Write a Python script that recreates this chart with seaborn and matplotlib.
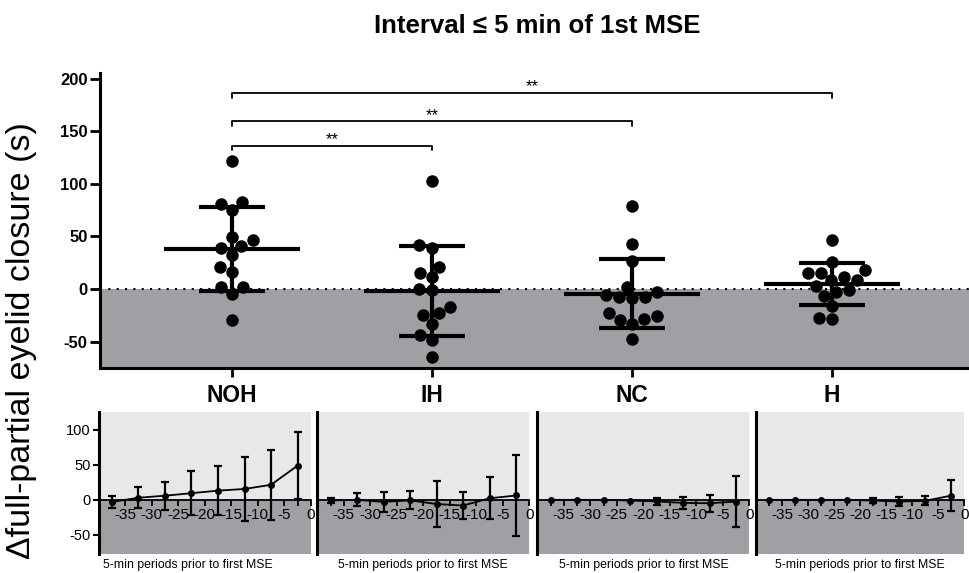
import numpy as np
import pandas as pd
import matplotlib
matplotlib.use('Agg')
import matplotlib.pyplot as plt
import seaborn as sns

# Main panel: per-subject differences (s)
groups = ['NOH', 'IH', 'NC', 'H']
noh = [122.3, 82.8, 81.2, 74.9, 49.6, 46.4, 38.6, 40.8, 32.2, 20.6, 16.4, 2.2, 2.2, -4.7, -29.4]
ih = [102.7, 39.5, 41.7, 14.9, 21.1, 11.1, -0.9, -0.3, -16.8, -24.6, -23.0, -33.2, -43.6, -49.0, -64.8]
nc = [79.0, 43.3, 26.5, 2.2, -8.8, -7.9, -7.9, -5.7, -2.5, -25.3, -29.4, -28.7, -33.5, -23.0, -47.7]
h = [47.1, 15.5, 8.5, 15.5, 8.5, 25.9, 18.0, 3.1, -2.6, 11.1, -0.9, -6.6, -15.8, -28.4, -27.8]

# significance brackets: (group a, group b, height, label)
brackets = [(0, 1, 136.5, '**'), (0, 2, 159.6, '**'), (0, 3, 186.5, '**')]

# Lower panels: mean and SD per 5-min period before first MSE
periods = [-37.5, -32.5, -27.5, -22.5, -17.5, -12.5, -7.5, -2.5]
noh_mean = [-2.9, 3.0, 5.9, 9.5, 13.1, 15.5, 21.4, 48.6]
noh_sd = [9.0, 15.0, 20.2, 31.0, 34.5, 45.0, 50.0, 47.6]
ih_mean = [-0.8, 0.0, -2.9, -0.7, -5.9, -8.1, 2.2, 6.2]
ih_sd = [4.0, 9.3, 14.7, 12.6, 32.1, 18.6, 29.8, 57.1]
nc_mean = [0.0, 0.0, 0.0, -1.0, -2.2, -4.3, -4.8, -2.4]
nc_sd = [0.0, 0.0, 0.0, 0.0, 4.5, 9.0, 11.9, 35.7]
h_mean = [0.0, 0.0, 0.0, 0.0, -1.0, -2.4, -1.4, 6.0]
h_sd = [0.0, 0.0, 0.0, 0.0, 3.5, 6.2, 6.2, 21.6]

sns.set_theme(style='ticks')
plt.rcParams['font.family'] = ['Liberation Sans', 'DejaVu Sans']
plt.rcParams.update({'text.color': 'black', 'axes.labelcolor': 'black',
                     'xtick.color': 'black', 'ytick.color': 'black',
                     'axes.edgecolor': 'black'})

dark = '#a09fa4'
light = '#e8e8e8'

df = pd.DataFrame({'group': np.repeat(groups, [len(noh), len(ih), len(nc), len(h)]),
                   'value': noh + ih + nc + h})
stats = df.groupby('group', sort=False)['value'].agg(['mean', 'std']).reindex(groups)

fig = plt.figure(figsize=(9.69, 5.73), dpi=100)

# ---- main scatter panel ----
ax = fig.add_axes([0.1032, 0.3578, 0.8968, 0.5154])
ax.axhspan(-80, 0, color=dark, lw=0, zorder=0)
ax.axhline(0, color='black', lw=1.5, ls=(0, (1, 3)), zorder=1)
sns.swarmplot(data=df, x='group', y='value', order=groups, color='black',
              size=9, ax=ax, zorder=3)
for i, g in enumerate(groups):
    m, s = stats.loc[g, 'mean'], stats.loc[g, 'std']
    ax.hlines(m, i - 0.34, i + 0.34, color='black', lw=3, zorder=4)
    ax.vlines(i, m - s, m + s, color='black', lw=3, zorder=4)
    ax.hlines([m - s, m + s], i - 0.165, i + 0.165, color='black', lw=3, zorder=4)

for a, b, y, lab in brackets:
    ax.plot([a, a, b, b], [y - 4.3, y, y, y - 4.3], color='black', lw=1.3, zorder=4)
    ax.text((a + b) / 2, y + 1.5, lab, ha='center', va='baseline', fontsize=12)

ax.set_xlim(-0.66, 3.685)
ax.set_ylim(-75.2, 206)
ax.set_yticks([-50, 0, 50, 100, 150, 200])
ax.set_yticklabels(['-50', '0', '50', '100', '150', '200'], fontweight='bold', fontsize=12)
ax.set_xticks(range(4))
ax.set_xticklabels(groups, fontweight='bold', fontsize=16.5)
ax.tick_params(axis='y', length=7, width=2, pad=2)
ax.tick_params(axis='x', length=6.5, width=2, pad=5)
ax.set_xlabel('')
ax.set_ylabel('')
sns.despine(ax=ax)
for sp in ['left', 'bottom']:
    ax.spines[sp].set_linewidth(2.2)

# ---- lower time-course panels ----
series = [(noh_mean, noh_sd), (ih_mean, ih_sd), (nc_mean, nc_sd), (h_mean, h_sd)]
lefts = [0.1019, 0.3274, 0.5545, 0.7802]
widths = [0.2188, 0.2188, 0.2188, 0.2148]
t = np.array(periods)
for k, (mean, sd) in enumerate(series):
    sub = fig.add_axes([lefts[k], 0.0332, widths[k], 0.2478])
    sub.set_facecolor(light)
    sub.axhspan(-80, 0, color=dark, lw=0, zorder=0)
    mean = np.array(mean)
    sd = np.array(sd)
    sns.lineplot(x=t, y=mean, ax=sub, color='black', lw=1.3, marker='o',
                 markersize=5, markeredgewidth=0, zorder=3)
    keep = sd > 0
    sub.errorbar(t[keep], mean[keep], yerr=sd[keep], fmt='none', ecolor='black',
                 elinewidth=1.6, capsize=3, capthick=1.6, zorder=3)
    sub.set_xlim(-40, 0)
    sub.set_ylim(-77, 125)
    sub.set_xticks(np.arange(-35, 1, 5))
    sub.set_xticklabels([str(v) for v in range(-35, 1, 5)], fontsize=10.5)
    sub.set_xticks(np.arange(-37.5, 0, 5), minor=True)
    sub.spines['bottom'].set_position(('data', 0))
    sub.spines['bottom'].set_linewidth(1.3)
    sub.spines['left'].set_linewidth(2.2)
    sub.spines['top'].set_visible(False)
    sub.spines['right'].set_visible(False)
    sub.tick_params(axis='x', which='both', length=4, width=1.3, pad=2, direction='out')
    if k == 0:
        sub.set_yticks([-50, 0, 50, 100])
        sub.set_yticklabels(['-50', '0', '50', '100'], fontsize=10.5)
        sub.tick_params(axis='y', length=4, width=1.5, pad=2)
    else:
        sub.set_yticks([])
    sub.set_ylabel('')
    sub.set_xlabel('5-min periods prior to first MSE', fontsize=8.8)
    sub.xaxis.set_label_coords(0.42 if k == 0 else 0.5, -0.036)

fig.text(537 / 969, 1 - 26 / 573, 'Interval \u2264 5 min of 1st MSE', ha='center', va='center',
         fontsize=18.5, fontweight='bold')
fig.text(22 / 969, 1 - 341 / 573, '\u0394full-partial eyelid closure (s)', ha='center', va='center',
         rotation=90, fontsize=24.5)

fig.savefig('out.png', dpi=100)
